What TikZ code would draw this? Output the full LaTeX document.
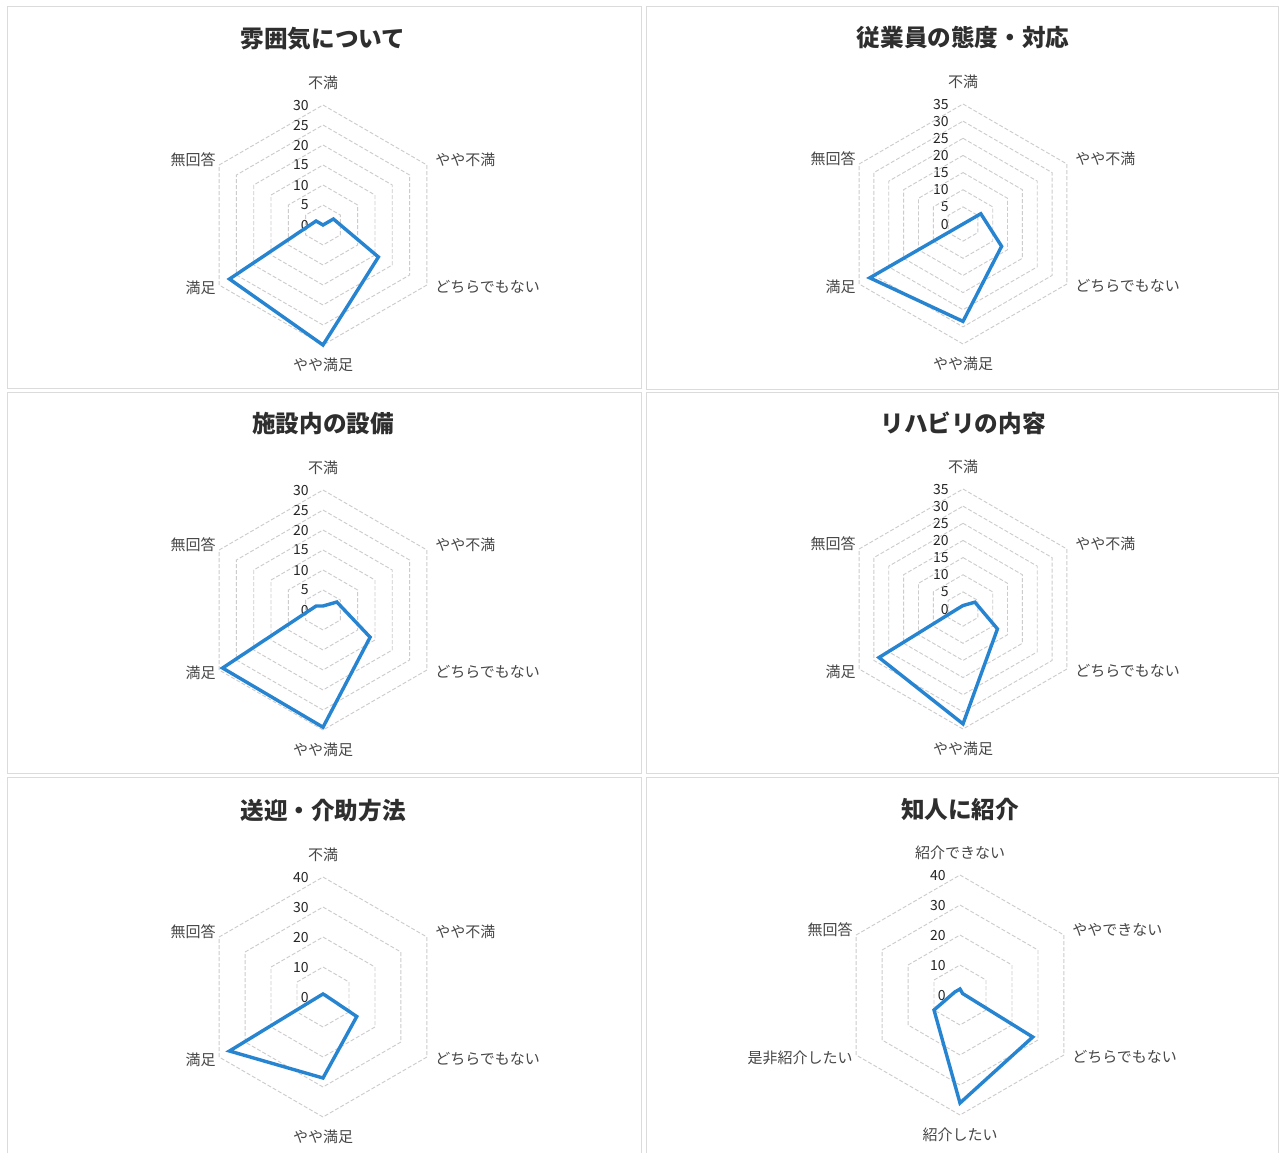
\documentclass[tikz,border=0pt]{standalone}
\usepackage{fontspec}
\setmainfont{Noto Sans CJK JP}
\definecolor{seriesblue}{RGB}{38,132,208}
\tikzset{
  ring/.style={draw=gray!40, line width=0.45pt, dash pattern=on 2pt off 1pt},
  series/.style={draw=seriesblue, line width=1.7pt, line join=miter},
  axlab/.style={font=\fontsize{7.5}{8}\selectfont, text=black!72, inner sep=0pt},
  numlab/.style={font=\fontsize{7}{8}\selectfont, text=black!85, anchor=east, inner sep=0pt},
  ttl/.style={font=\bfseries\fontsize{11.8}{13}\selectfont, text=black!82, inner sep=0pt},
  panel/.style={draw=gray!28, line width=0.5pt},
}
\def\radR{120}
% grid: cx cy max list-of-levels
\newcommand\radargrid[4]{%
  \foreach \lv in {#4}{%
    \pgfmathsetmacro\rr{\radR*\lv/#3}
    \draw[ring] ({#1},{#2-\rr}) -- ({#1+0.866*\rr},{#2-0.5*\rr}) -- ({#1+0.866*\rr},{#2+0.5*\rr})
      -- ({#1},{#2+\rr}) -- ({#1-0.866*\rr},{#2+0.5*\rr}) -- ({#1-0.866*\rr},{#2-0.5*\rr}) -- cycle;
    \node[numlab] at ({#1-14},{#2-\rr}) {\lv};
  }%
  \node[numlab] at ({#1-14},{#2}) {0};
}
% series: cx cy max v1..v6
\newcommand\radarpoly[9]{%
  \pgfmathsetmacro\kk{\radR/#3}
  \draw[series] ({#1},{#2-\kk*#4}) -- ({#1+0.866*\kk*#5},{#2-0.5*\kk*#5})
    -- ({#1+0.866*\kk*#6},{#2+0.5*\kk*#6}) -- ({#1},{#2+\kk*#7})
    -- ({#1-0.866*\kk*#8},{#2+0.5*\kk*#8}) -- ({#1-0.866*\kk*#9},{#2-0.5*\kk*#9}) -- cycle;
}
% labels: cx cy title l1..l5 prefix (sixth label from \lastlab)
\newcommand\radarlabels[9]{%
  \node[ttl] (#9t) at ({#1},{#2-186}) {#3};
  \node[axlab] (#9a) at ({#1},{#2-142}) {#4};
  \node[axlab, anchor=west] (#9b) at ({#1+112},{#2-65}) {#5};
  \node[axlab, anchor=west] (#9c) at ({#1+112},{#2+62}) {#6};
  \node[axlab] (#9d) at ({#1},{#2+140}) {#7};
  \node[axlab, anchor=east] (#9e) at ({#1-107},{#2+63}) {#8};
  \node[axlab, anchor=east] (#9f) at ({#1-107},{#2-65}) {\lastlab};
}
\def\lastlab{無回答}
\begin{document}
\begin{tikzpicture}[x=0.5pt,y=-0.5pt]
\useasboundingbox (0,0) rectangle (1280,1153);
\fill[white] (0,0) rectangle (1280,1153);
% panels
\draw[panel] (7,6) rectangle (641,388);
\draw[panel] (646,6) rectangle (1278,389);
\draw[panel] (7,392) rectangle (641,773);
\draw[panel] (646,392) rectangle (1278,773);
\draw[panel] (7,1153) -- (7,777) -- (641,777) -- (641,1153);
\draw[panel] (646,1153) -- (646,777) -- (1278,777) -- (1278,1153);

% chart 1
\radargrid{323}{225}{30}{5,10,...,30}
\radarpoly{323}{225}{30}{0}{3}{16}{30}{27}{2}
\radarlabels{323}{225}{雰囲気について}{不満}{やや不満}{どちらでもない}{やや満足}{満足}{c1}

% chart 2
\radargrid{963}{224}{35}{5,10,...,35}
\radarpoly{963}{224}{35}{0}{6}{13}{28.4}{31.4}{0}
\radarlabels{963}{224}{従業員の態度・対応}{不満}{やや不満}{どちらでもない}{やや満足}{満足}{c2}

% chart 3
\radargrid{323}{610}{30}{5,10,...,30}
\radarpoly{323}{610}{30}{1}{4}{13.6}{29.3}{29}{2}
\radarlabels{323}{610}{施設内の設備}{不満}{やや不満}{どちらでもない}{やや満足}{満足}{c3}

% chart 4
\radargrid{963}{609}{35}{5,10,...,35}
\radarpoly{963}{609}{35}{1}{4}{11.6}{33.5}{28.3}{1}
\radarlabels{963}{609}{リハビリの内容}{不満}{やや不満}{どちらでもない}{やや満足}{満足}{c4}

% chart 5
\radargrid{323}{997}{40}{10,20,...,40}
\radarpoly{323}{997}{40}{1}{1}{13}{27}{36}{1}
\radarlabels{323}{997}{送迎・介助方法}{不満}{やや不満}{どちらでもない}{やや満足}{満足}{c5}

% chart 6
\radargrid{960}{995}{40}{10,20,...,40}
\radarpoly{960}{995}{40}{2}{1}{28}{36}{10}{2}
\radarlabels{960}{995}{知人に紹介}{紹介できない}{ややできない}{どちらでもない}{紹介したい}{是非紹介したい}{c6}
\end{tikzpicture}
\end{document}
